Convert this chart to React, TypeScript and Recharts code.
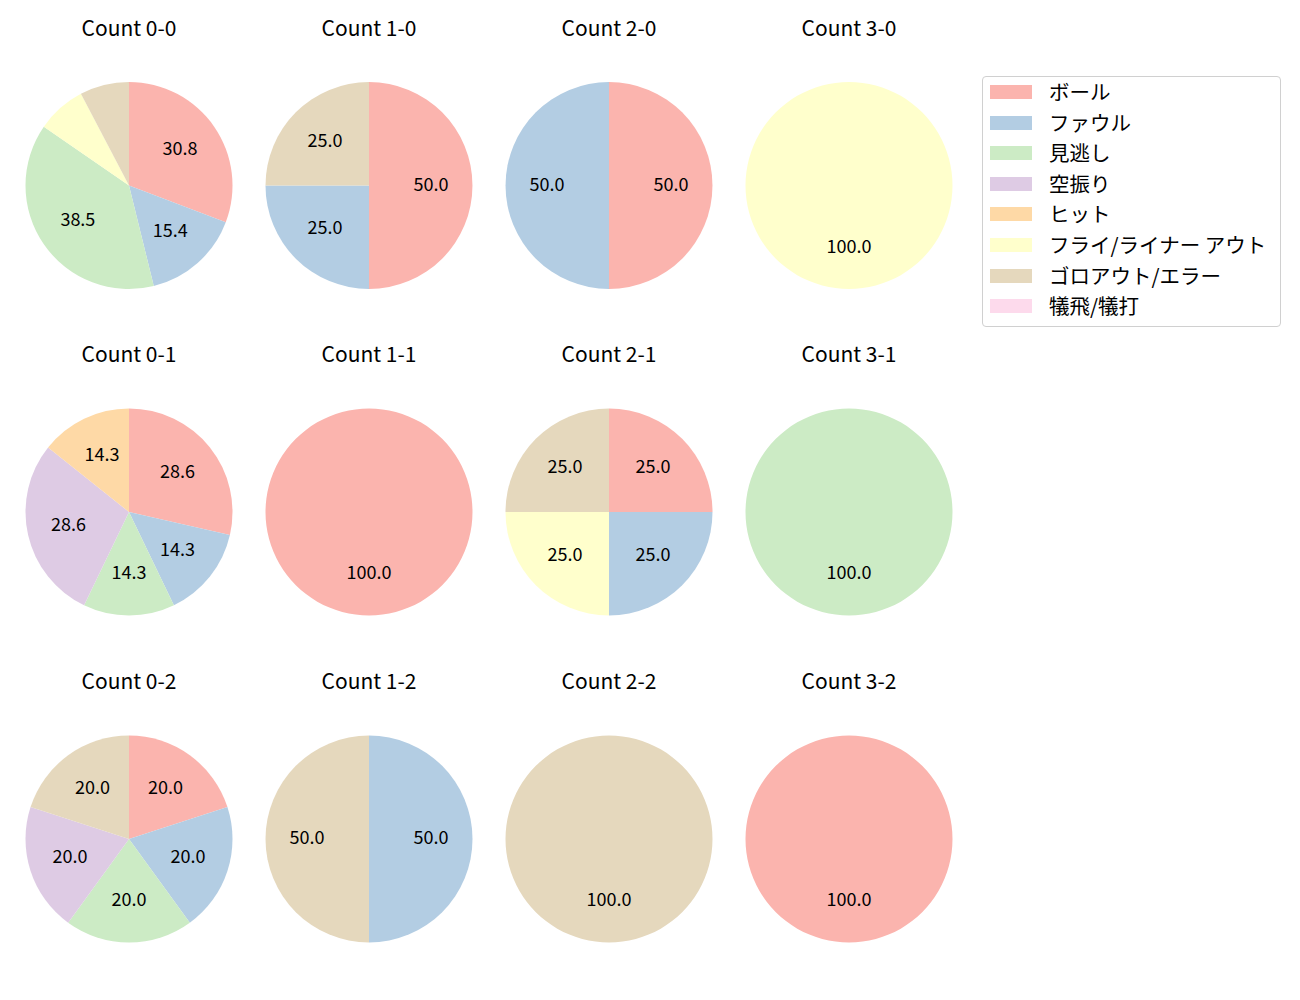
import { PieChart, Pie, Cell } from 'recharts'

const categories = ['ボール', 'ファウル', '見逃し', '空振り', 'ヒット', 'フライ/ライナー アウト', 'ゴロアウト/エラー', '犠飛/犠打']
const colors = ['#fbb4ae', '#b3cde3', '#ccebc5', '#decbe4', '#fed9a6', '#ffffcc', '#e5d8bd', '#fddaec']

const countTitles = [
  ['Count 0-0', 'Count 1-0', 'Count 2-0', 'Count 3-0'],
  ['Count 0-1', 'Count 1-1', 'Count 2-1', 'Count 3-1'],
  ['Count 0-2', 'Count 1-2', 'Count 2-2', 'Count 3-2'],
]

// pitch result counts per situation, aligned with categories
const c00 = [4, 2, 5, 0, 0, 1, 1, 0]
const c10 = [2, 1, 0, 0, 0, 0, 1, 0]
const c20 = [1, 1, 0, 0, 0, 0, 0, 0]
const c30 = [0, 0, 0, 0, 0, 1, 0, 0]
const c01 = [2, 1, 1, 2, 1, 0, 0, 0]
const c11 = [1, 0, 0, 0, 0, 0, 0, 0]
const c21 = [1, 1, 0, 0, 0, 1, 1, 0]
const c31 = [0, 0, 1, 0, 0, 0, 0, 0]
const c02 = [1, 1, 1, 1, 0, 0, 1, 0]
const c12 = [0, 1, 0, 0, 0, 0, 1, 0]
const c22 = [0, 0, 0, 0, 0, 0, 1, 0]
const c32 = [1, 0, 0, 0, 0, 0, 0, 0]

const grid = [
  [c00, c10, c20, c30],
  [c01, c11, c21, c31],
  [c02, c12, c22, c32],
]

const FONT = '"Noto Sans CJK JP", "Noto Sans", sans-serif'
const RAD = Math.PI / 180
const R = 103.5
const colX = [129, 369, 609, 849]
const rowY = [185.5, 512, 839]

function toData(counts: number[]) {
  return counts
    .map((v, i) => ({ name: categories[i], value: v, color: colors[i] }))
    .filter(d => d.value > 0)
}

function renderLabel(props: any) {
  const { cx, cy, midAngle, outerRadius, percent } = props
  const p = percent * 100
  if (p < 10) return null
  const r = outerRadius * 0.6
  const x = cx + r * Math.cos(-midAngle * RAD)
  const y = cy + r * Math.sin(-midAngle * RAD) - 3
  return (
    <text x={x} y={y} textAnchor="middle" dominantBaseline="central" fill="#000" fontSize={18} fontFamily={FONT}>
      {p.toFixed(1)}
    </text>
  )
}

export default function App() {
  return (
    <div style={{ position: 'absolute', left: 0, top: 0, width: 1300, height: 1000, background: '#fff', fontFamily: FONT }}>
      <PieChart width={1300} height={1000} margin={{ top: 0, right: 0, bottom: 0, left: 0 }}>
        {grid.flatMap((row, ri) =>
          row.map((counts, ci) => {
            const data = toData(counts)
            return (
              <Pie
                key={`${ri}-${ci}`}
                data={data}
                dataKey="value"
                nameKey="name"
                cx={colX[ci]}
                cy={rowY[ri]}
                outerRadius={R}
                startAngle={90}
                endAngle={-270}
                stroke="none"
                label={renderLabel}
                labelLine={false}
                isAnimationActive={false}
              >
                {data.map(d => <Cell key={d.name} fill={d.color} />)}
              </Pie>
            )
          })
        )}
      </PieChart>
      {countTitles.flatMap((row, ri) =>
        row.map((t, ci) => (
          <div
            key={t}
            style={{
              position: 'absolute', left: colX[ci] - 100, width: 200, top: rowY[ri] - 170,
              textAlign: 'center', fontSize: 21, lineHeight: '22px', color: '#000',
            }}
          >
            {t}
          </div>
        ))
      )}
      <div
        style={{
          position: 'absolute', left: 982, top: 76, width: 297, height: 249,
          border: '1px solid #d0d0d0', borderRadius: 4, background: '#fff',
        }}
      >
        {categories.map((c, i) => (
          <div key={c} style={{ position: 'absolute', left: 0, top: 7 + i * 30.6, height: 16, display: 'flex', alignItems: 'center' }}>
            <span style={{ position: 'absolute', left: 7, width: 42, height: 14, background: colors[i] }} />
            <span style={{ position: 'absolute', left: 66, top: -4, fontSize: 20.5, lineHeight: '22px', whiteSpace: 'nowrap', color: '#000' }}>{c}</span>
          </div>
        ))}
      </div>
    </div>
  )
}
